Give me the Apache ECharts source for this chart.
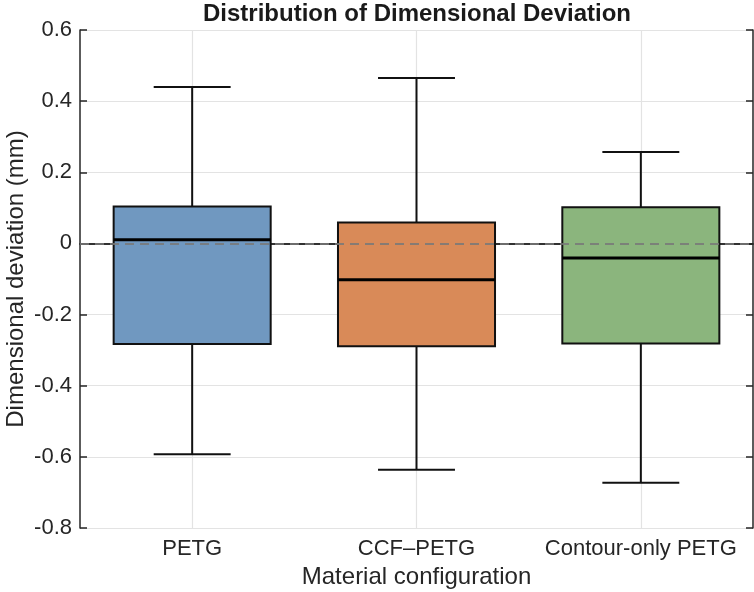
<!DOCTYPE html>
<html>
<head>
<meta charset="utf-8">
<script src="https://cdn.jsdelivr.net/npm/echarts@6/dist/echarts.min.js"></script>
<style>
html,body{margin:0;padding:0;background:#fff;}
#chart{width:754px;height:592px;}
</style>
</head>
<body>
<div id="chart"></div>
<script>
const categories = ['PETG', 'CCF\u2013PETG', 'Contour-only PETG'];
const whiskerLow = [-0.593, -0.636, -0.673];
const q1 = [-0.283, -0.289, -0.281];
const median = [0.010, -0.102, -0.041];
const q3 = [0.104, 0.059, 0.102];
const whiskerHigh = [0.440, 0.465, 0.257];
const boxColors = ['#7098C0', '#D98A58', '#8BB57D'];
const yTicks = { min: -0.8, max: 0.6, interval: 0.2 };
const refLineValue = [0];

const data = categories.map((c, i) => [i, whiskerLow[i], q1[i], median[i], q3[i], whiskerHigh[i]]);

const FONT = '"Liberation Sans", Arial, sans-serif';
const AXIS_COLOR = '#262626';
const GRID_COLOR = '#e3e3e3';

function renderBox(params, api) {
  const idx = api.value(0);
  const lo = api.coord([idx, api.value(1)]);
  const b1 = api.coord([idx, api.value(2)]);
  const md = api.coord([idx, api.value(3)]);
  const b3 = api.coord([idx, api.value(4)]);
  const hi = api.coord([idx, api.value(5)]);
  const band = api.size([1, 0])[0];
  const bw = band * 0.70;
  const cw = bw * 0.49;
  const x = lo[0];
  const lineStyle = { stroke: '#111', lineWidth: 2 };
  return {
    type: 'group',
    children: [
      { type: 'line', shape: { x1: x, y1: b3[1], x2: x, y2: hi[1] }, style: lineStyle },
      { type: 'line', shape: { x1: x, y1: b1[1], x2: x, y2: lo[1] }, style: lineStyle },
      { type: 'line', shape: { x1: x - cw / 2, y1: hi[1], x2: x + cw / 2, y2: hi[1] }, style: lineStyle },
      { type: 'line', shape: { x1: x - cw / 2, y1: lo[1], x2: x + cw / 2, y2: lo[1] }, style: lineStyle },
      { type: 'rect', shape: { x: x - bw / 2, y: b3[1], width: bw, height: b1[1] - b3[1] },
        style: { fill: boxColors[idx], stroke: '#111', lineWidth: 2 } },
      { type: 'line', shape: { x1: x - bw / 2, y1: md[1], x2: x + bw / 2, y2: md[1] },
        style: { stroke: '#000', lineWidth: 3 } }
    ]
  };
}

const chart = echarts.init(document.getElementById('chart'), null, { renderer: 'canvas' });
chart.setOption({
  animation: false,
  backgroundColor: '#fff',
  title: {
    text: 'Distribution of Dimensional Deviation',
    left: 203,
    top: 0,
    padding: [2, 0, 0, 0],
    textStyle: { fontFamily: FONT, fontSize: 24, fontWeight: 'bold', color: '#1a1a1a' }
  },
  grid: { left: 80, right: 1, top: 30, bottom: 64, containLabel: false, outerBoundsMode: 'none' },
  xAxis: [{
    type: 'category',
    data: categories,
    position: 'bottom',
    name: 'Material configuration',
    nameLocation: 'middle',
    nameGap: 37,
    nameMoveOverlap: false,
    nameTextStyle: { fontFamily: FONT, fontSize: 24, color: '#262626' },
    axisLine: { show: true, lineStyle: { color: AXIS_COLOR, width: 1.5 } },
    axisTick: { show: true, inside: true, alignWithLabel: true, length: 7, lineStyle: { color: AXIS_COLOR, width: 1.5 } },
    axisLabel: { fontFamily: FONT, fontSize: 22, color: '#262626', margin: 10, interval: 0 },
    splitLine: { show: false }
  }, {
    type: 'category',
    data: categories,
    position: 'top',
    axisLine: { show: true, lineStyle: { color: AXIS_COLOR, width: 1.5 } },
    axisTick: { show: true, inside: true, alignWithLabel: true, length: 7, lineStyle: { color: AXIS_COLOR, width: 1.5 } },
    axisLabel: { show: false },
    splitLine: { show: false }
  }],
  yAxis: [{
    type: 'value',
    min: yTicks.min, max: yTicks.max, interval: yTicks.interval,
    name: 'Dimensional deviation (mm)',
    nameLocation: 'middle',
    nameGap: 52,
    nameMoveOverlap: false,
    nameTextStyle: { fontFamily: FONT, fontSize: 24, color: '#262626' },
    axisLine: { show: true, lineStyle: { color: AXIS_COLOR, width: 1.5 } },
    axisTick: { show: true, inside: true, length: 7, lineStyle: { color: AXIS_COLOR, width: 1.5 } },
    axisLabel: { fontFamily: FONT, fontSize: 22, color: '#262626', margin: 8,
      formatter: v => (Math.abs(v) < 1e-9 ? '0' : String(Math.round(v * 10) / 10)) },
    splitLine: { show: true, lineStyle: { color: GRID_COLOR, width: 1.2 } }
  }, {
    type: 'value',
    position: 'right',
    min: yTicks.min, max: yTicks.max, interval: yTicks.interval,
    axisLine: { show: true, lineStyle: { color: AXIS_COLOR, width: 1.5 } },
    axisTick: { show: true, inside: true, length: 7, lineStyle: { color: AXIS_COLOR, width: 1.5 } },
    axisLabel: { show: false },
    splitLine: { show: false }
  }],
  series: [{
    type: 'custom',
    name: 'gridX',
    xAxisIndex: 0,
    yAxisIndex: 0,
    renderItem: () => ({ type: 'group', children: [] }),
    data: [],
    z: 0,
    markLine: {
      silent: true,
      symbol: 'none',
      z: 0,
      label: { show: false },
      lineStyle: { color: GRID_COLOR, type: 'solid', width: 1.2 },
      data: categories.map(c => ({ xAxis: c }))
    }
  }, {
    type: 'custom',
    xAxisIndex: 0,
    yAxisIndex: 0,
    renderItem: renderBox,
    encode: { x: 0, y: [1, 2, 3, 4, 5] },
    data: data,
    z: 2,
    markLine: {
      silent: true,
      symbol: 'none',
      z: 5,
      label: { show: false },
      lineStyle: { color: 'rgba(120,120,120,0.85)', type: [9, 6], width: 2 },
      data: refLineValue.map(v => ({ yAxis: v }))
    }
  }]
});
</script>
</body>
</html>
